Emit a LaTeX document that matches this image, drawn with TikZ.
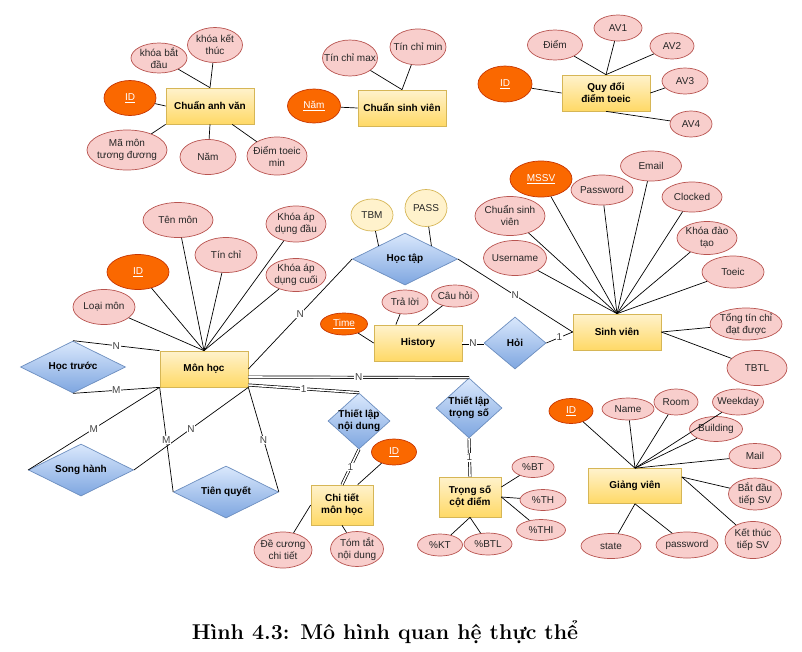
\documentclass[tikz,border=0pt]{standalone}
\usepackage{fontspec}
\newfontfamily\drawfont{Liberation Sans}
\usepackage{xcolor}
\usetikzlibrary{shapes.geometric}
\usetikzlibrary{calc}
\usetikzlibrary{positioning}

\definecolor{entline}{HTML}{D6B656}
\definecolor{enttop}{HTML}{FFF2CC}
\definecolor{entbot}{HTML}{FFD966}
\definecolor{relline}{HTML}{6C8EBF}
\definecolor{reltop}{HTML}{DAE8FC}
\definecolor{relbot}{HTML}{7EA6E0}
\definecolor{attline}{HTML}{B85450}
\definecolor{attfill}{HTML}{F8CECC}
\definecolor{keyline}{HTML}{C73500}
\definecolor{keyfill}{HTML}{FA6800}
\definecolor{cardtext}{HTML}{444444}

\begin{document}
\begin{tikzpicture}[x=1pt,y=-1pt,line width=0.7pt,on grid,
    font=\drawfont\fontsize{10}{12}\selectfont,
    attr/.style 2 args={ellipse, draw=attline, fill=attfill, text=black!85, align=center,
      inner sep=-15pt, minimum width=#1, minimum height=#2},
    keyattr/.style 2 args={ellipse, draw=keyline, fill=keyfill, text=white,
      inner sep=-15pt, minimum width=#1, minimum height=#2},
    derattr/.style 2 args={ellipse, draw=entline, fill=enttop, text=black!85,
      inner sep=-15pt, minimum width=#1, minimum height=#2}]
  \tikzstyle{ent}=[draw=entline, top color=enttop, bottom color=entbot, align=center,
    minimum width=88pt, minimum height=36pt, font=\drawfont\bfseries\fontsize{10}{12}\selectfont]
  \tikzstyle{rel}=[diamond, draw=relline, top color=reltop, bottom color=relbot, align=center,
    inner sep=-15pt, minimum width=105pt, minimum height=52pt, font=\drawfont\bfseries\fontsize{10}{12}\selectfont]
  \tikzstyle{card}=[fill=white, inner sep=0.6pt, text=cardtext, font=\drawfont\fontsize{10}{11}\selectfont]
  \tikzstyle{dbl}=[double, double distance=1.6pt]
  \useasboundingbox (0,0) rectangle (802,651);

  % entities
  \node[ent] (cav) at (210,106) {Chuẩn anh văn};
  \node[ent] (csv) at (402,108) {Chuẩn sinh viên};
  \node[ent] (qd)  at (606,93)  {Quy đổi\\điểm toeic};
  \node[ent] (sv)  at (617,332) {Sinh viên};
  \node[ent] (mh)  at (204,369) {Môn học};
  \node[ent] (hs)  at (418,343) {History};
  \node[ent, minimum width=62pt, minimum height=40pt] (ct) at (342,505) {Chi tiết\\môn học};
  \node[ent, minimum width=62pt, minimum height=40pt] (ts) at (470,497) {Trọng số\\cột điểm};
  \node[ent, minimum width=93pt, minimum height=35pt] (gv) at (635,486) {Giảng viên};

  % relationships
  \node[rel] (hoctruoc)  at (73,367)  {Học trước};
  \node[rel] (songhanh)  at (81,470)  {Song hành};
  \node[rel] (tienquyet) at (226,492) {Tiên quyết};
  \node[rel] (hoctap)    at (405,259) {Học tập};
  \node[rel, minimum width=62pt] (hoi) at (515,343) {Hỏi};
  \node[rel, minimum width=62pt, minimum height=56pt] (tlnd) at (359,421) {Thiết lập\\nội dung};
  \node[rel, minimum width=66pt, minimum height=60pt] (tlts) at (469,408) {Thiết lập\\trọng số};

  % Chuẩn anh văn
  \node[attr={56pt}{30pt}] (kbd) [above left=48pt and 51pt of cav] {khóa bắt\\đầu};
  \node[attr={55pt}{35pt}] (kkt) [above right=61pt and 5pt of cav] {khóa kết\\thúc};
  \node[keyattr={52pt}{35pt}] (cavid) [above left=8pt and 80pt of cav] {\underline{ID}};
  \node[attr={80pt}{40pt}] (mmtd) [below left=44pt and 83pt of cav] {Mã môn\\tương đương};
  \node[attr={56pt}{35pt}] (cavnam) [below left=51pt and 2pt of cav] {Năm};
  \node[attr={60pt}{38pt}] (dtm) [below right=50pt and 67pt of cav] {Điểm toeic\\min};

  % Chuẩn sinh viên
  \node[attr={55pt}{36pt}] (tcmax) [above left=50pt and 52pt of csv] {Tín chỉ max};
  \node[attr={56pt}{36pt}] (tcmin) [above right=61pt and 16pt of csv] {Tín chỉ min};
  \node[keyattr={53pt}{34pt}] (csvnam) [above left=2pt and 88pt of csv] {\underline{Năm}};

  % Quy đổi điểm toeic
  \node[attr={55pt}{30pt}] (qddiem) [above left=48pt and 51pt of qd] {Điểm};
  \node[attr={48pt}{26pt}] (av1) [above right=65pt and 12pt of qd] {AV1};
  \node[attr={44pt}{26pt}] (av2) [above right=47pt and 66pt of qd] {AV2};
  \node[attr={46pt}{26pt}] (av3) [above right=12pt and 79pt of qd] {AV3};
  \node[attr={42pt}{26pt}] (av4) [below right=31pt and 85pt of qd] {AV4};
  \node[keyattr={54pt}{36pt}] (qdid) [above left=9pt and 101pt of qd] {\underline{ID}};

  % Sinh viên
  \node[keyattr={62pt}{36pt}] (mssv) [above left=153pt and 76pt of sv] {\underline{MSSV}};
  \node[attr={62pt}{30pt}] (pw) [above left=142pt and 15pt of sv] {Password};
  \node[attr={61pt}{30pt}] (email) [above right=166pt and 34pt of sv] {Email};
  \node[attr={60pt}{30pt}] (clocked) [above right=135pt and 75pt of sv] {Clocked};
  \node[attr={60pt}{33pt}] (kdt) [above right=94pt and 90pt of sv] {Khóa đào\\tạo};
  \node[attr={62pt}{32pt}] (toeic) [above right=60pt and 116pt of sv] {Toeic};
  \node[attr={70pt}{39pt}] (svcsv) [above left=116pt and 107pt of sv] {Chuẩn sinh\\viên};
  \node[attr={63pt}{35pt}] (user) [above left=74pt and 102pt of sv] {Username};
  \node[attr={72pt}{32pt}] (ttc) [above right=8pt and 129pt of sv] {Tổng tín chỉ\\đạt được};
  \node[attr={60pt}{35pt}] (tbtl) [below right=36pt and 140pt of sv] {TBTL};

  % Môn học
  \node[attr={70pt}{35pt}] (tenmon) [above left=149pt and 26pt of mh] {Tên môn};
  \node[attr={62pt}{35pt}] (tinchi) [above right=114pt and 22pt of mh] {Tín chỉ};
  \node[attr={60pt}{36pt}] (kadd) [above right=145pt and 92pt of mh] {Khóa áp\\dụng đầu};
  \node[attr={60pt}{33pt}] (kadc) [above right=94pt and 92pt of mh] {Khóa áp\\dụng cuối};
  \node[keyattr={62pt}{35pt}] (mhid) [above left=97pt and 66pt of mh] {\underline{ID}};
  \node[attr={62pt}{35pt}] (loaimon) [above left=62pt and 100pt of mh] {Loại môn};

  % Học tập, History
  \node[derattr={42pt}{32pt}] (tbm) [above left=44pt and 33pt of hoctap] {TBM};
  \node[derattr={42pt}{37pt}] (pass) [above right=51pt and 21pt of hoctap] {PASS};
  \node[attr={46pt}{24pt}] (traloi) [above left=41pt and 13pt of hs] {Trả lời};
  \node[attr={47pt}{22pt}] (cauhoi) [above right=47pt and 37pt of hs] {Câu hỏi};
  \node[keyattr={47pt}{22pt}] (time) [above left=19pt and 74pt of hs] {\underline{Time}};

  % Chi tiết môn học, Trọng số cột điểm
  \node[keyattr={45pt}{26pt}] (ctid) [above right=53pt and 52pt of ct] {\underline{ID}};
  \node[attr={58pt}{36pt}] (decuong) [below left=45pt and 59pt of ct] {Đề cương\\chi tiết};
  \node[attr={53pt}{35pt}] (tomtat) [below right=44pt and 15pt of ct] {Tóm tắt\\nội dung};
  \node[attr={42pt}{21pt}] (bt) [above right=30pt and 63pt of ts] {\%BT};
  \node[attr={46pt}{21pt}] (th) [below right=3pt and 73pt of ts] {\%TH};
  \node[attr={49pt}{21pt}] (thi) [below right=33pt and 71pt of ts] {\%THI};
  \node[attr={45pt}{22pt}] (kt) [below left=48pt and 30pt of ts] {\%KT};
  \node[attr={48pt}{22pt}] (btl) [below right=47pt and 18pt of ts] {\%BTL};

  % Giảng viên
  \node[keyattr={44pt}{25pt}] (gvid) [above left=75pt and 64pt of gv] {\underline{ID}};
  \node[attr={52pt}{22pt}] (name) [above left=77pt and 7pt of gv] {Name};
  \node[attr={44pt}{26pt}] (room) [above right=84pt and 41pt of gv] {Room};
  \node[attr={51pt}{26pt}] (weekday) [above right=84pt and 103pt of gv] {Weekday};
  \node[attr={53pt}{25pt}] (building) [above right=57pt and 81pt of gv] {Building};
  \node[attr={52pt}{25pt}] (mail) [above right=30pt and 120pt of gv] {Mail};
  \node[attr={53pt}{32pt}] (batdau) [below right=8pt and 120pt of gv] {Bắt đầu\\tiếp SV};
  \node[attr={56pt}{37pt}] (ketthuc) [below right=54pt and 118pt of gv] {Kết thúc\\tiếp SV};
  \node[attr={60pt}{25pt}] (state) [below left=60pt and 24pt of gv] {state};
  \node[attr={62pt}{26pt}] (gvpw) [below right=59pt and 52pt of gv] {password};

  \node[font=\rmfamily\bfseries\fontsize{21.4}{25}\selectfont, anchor=base] (caption) at (385,639)
    {Hình 4.3: Mô hình quan hệ thực thể};

  % attribute lines
  \path
    (kbd) edge (cav.north)
    (kkt) edge (cav.north)
    (cavid) edge (cav.west)
    (mmtd) edge (cav.south west)
    (cavnam) edge (cav.south)
    (dtm) edge ($(cav.south)!0.5!(cav.south east)$)
    (tcmax) edge (csv.north)
    (tcmin) edge (csv.north)
    (csvnam) edge (csv.west)
    (qddiem) edge (qd.north)
    (av1) edge (qd.north)
    (av2) edge (qd.north)
    (av3) edge (qd.east)
    (av4) edge (qd.south)
    (qdid) edge (qd.west)
    (mssv) edge (sv.north)
    (pw) edge (sv.north)
    (email) edge (sv.north)
    (clocked) edge (sv.north)
    (kdt) edge (sv.north)
    (toeic) edge (sv.north)
    (svcsv) edge (sv.north)
    (user) edge (sv.north)
    (ttc) edge (sv.east)
    (tbtl) edge (sv.east)
    (tenmon) edge (mh.north)
    (tinchi) edge (mh.north)
    (kadd) edge (mh.north)
    (kadc) edge (mh.north)
    (mhid) edge (mh.north)
    (loaimon) edge (mh.north)
    (tbm) edge (hoctap.north west)
    (pass) edge (hoctap.north east)
    (traloi) edge ($(hs.north west)!0.5!(hs.north)$)
    (cauhoi) edge (hs.north)
    (time) edge (hs.west)
    (ctid) edge ($(ct.north)!0.5!(ct.north east)$)
    (decuong) edge (ct.west)
    (tomtat) edge (ct.south)
    (bt) edge ([yshift=10pt]ts.east)
    (th) edge (ts.east)
    (thi) edge (ts.east)
    (kt) edge (ts.south)
    (btl) edge (ts.south)
    (gvid) edge (gv.north)
    (name) edge (gv.north)
    (room) edge (gv.north)
    (weekday) edge (gv.north)
    (building) edge (gv.north)
    (mail) edge (gv.north)
    (batdau) edge ([yshift=9pt]gv.east)
    (ketthuc) edge ([yshift=9pt]gv.east)
    (state) edge (gv.south)
    (gvpw) edge (gv.south);

  % relationship lines
  \path
    (hoctruoc.north) edge node[card] {N} (mh.north west)
    (hoctruoc.south) edge node[card] {M} (mh.south west)
    (songhanh.west) edge node[card] {M} (mh.south west)
    (songhanh.east) edge node[card] {N} (mh.south east)
    (tienquyet.west) edge node[card] {M} (mh.south west)
    (tienquyet.east) edge node[card] {N} (mh.south east)
    (hoctap.west) edge node[card] {N} (mh.east)
    (hoctap.east) edge node[card] {N} (sv.west)
    (hs.east) edge[dbl] node[card] {N} (hoi.west)
    (hoi.east) edge node[card] {1} (sv.west)
    ([yshift=-8pt]mh.east) edge[dbl] node[card] {N} (tlts.north)
    ([yshift=-16pt]mh.east) edge[dbl] node[card] {1} (tlnd.north)
    (tlnd.south) edge[dbl] node[card] {1} (ct.north)
    (tlts.south) edge[dbl] node[card] {1} (ts.north);
\end{tikzpicture}
\end{document}
